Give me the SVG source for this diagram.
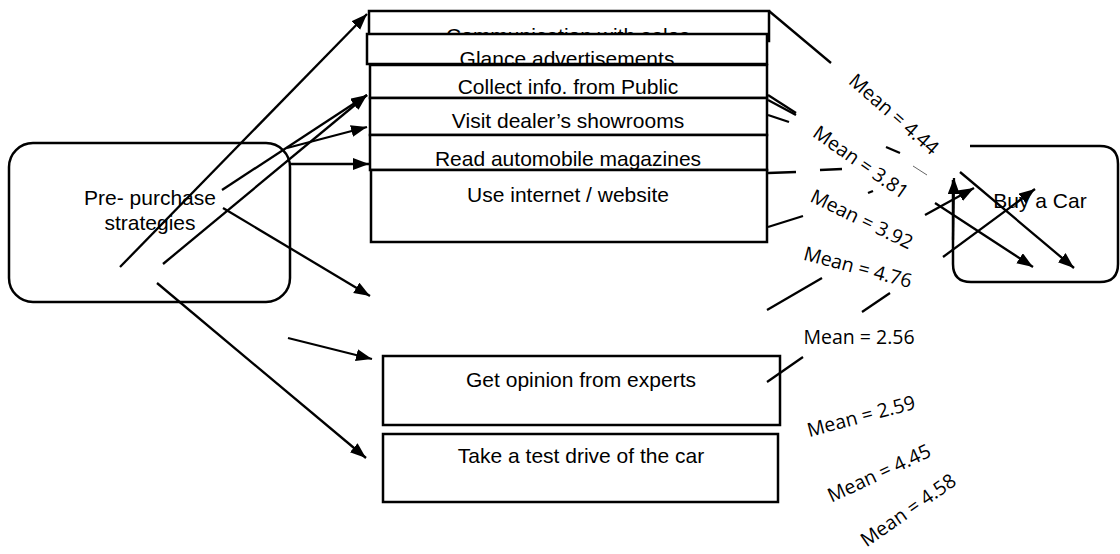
<svg xmlns="http://www.w3.org/2000/svg" width="1120" height="554" viewBox="0 0 1120 554">
<defs>
<marker id="ah" markerUnits="userSpaceOnUse" markerWidth="18" markerHeight="14" refX="16" refY="6" orient="auto">
<path d="M0,0 L16,6 L0,12 z" fill="#000"/>
</marker>
<style>
.box{fill:#fff;stroke:#000;stroke-width:2.5}
.t{font-family:"Liberation Sans",Arial,sans-serif;font-size:21px;fill:#000;text-anchor:middle}
.m{font-family:"Open Sans","Noto Sans",sans-serif;font-size:19.5px;fill:#000;text-anchor:middle}
.c{stroke:#000;stroke-width:2.3;fill:none}
.a{stroke:#000;stroke-width:2.3;fill:none;marker-end:url(#ah)}
</style>
</defs>
<rect width="1120" height="554" fill="#fff"/>
<g id="pre">
<rect class="box" x="9" y="143" width="281" height="159" rx="24"/>
<text class="t" x="150" y="205">Pre- purchase</text>
<text class="t" x="150" y="230">strategies</text>
</g>
<g id="comm">
<rect class="box" x="369" y="11" width="400" height="30"/>
<text class="t" x="568" y="43">Communication with sales</text>
</g>
<g id="glance">
<rect class="box" x="367" y="34" width="400" height="30"/>
<text class="t" x="567" y="66">Glance advertisements</text>
</g>
<g id="collect">
<rect class="box" x="370" y="65" width="397" height="33"/>
<text class="t" x="568" y="94">Collect info. from Public</text>
</g>
<g id="visit">
<rect class="box" x="370" y="98" width="397" height="37"/>
<text class="t" x="568" y="128">Visit dealer’s showrooms</text>
</g>
<g id="read">
<rect class="box" x="370" y="135" width="397" height="35"/>
<text class="t" x="568" y="166">Read automobile magazines</text>
</g>
<g id="internet">
<rect class="box" x="371" y="170" width="396" height="72"/>
<text class="t" x="568" y="202">Use internet / website</text>
</g>
<g id="experts">
<rect class="box" x="383" y="356" width="397" height="69"/>
<text class="t" x="581" y="387">Get opinion from experts</text>
</g>
<g id="testdrive">
<rect class="box" x="383" y="434" width="395" height="68"/>
<text class="t" x="581" y="463">Take a test drive of the car</text>
</g>
<g id="buy">
<path class="c" style="stroke-width:2.5" d="M970,146 H1100 Q1118,146 1118,164 V264 Q1118,282 1100,282 H971 Q953,282 953,264 V180"/>
<text class="t" x="1040" y="208">Buy a Car</text>
</g>
<g id="connectors">
<line class="a" x1="120" y1="267" x2="367" y2="14"/>
<line class="a" x1="163" y1="264" x2="367" y2="95"/>
<line class="a" x1="222" y1="190" x2="367" y2="95"/>
<line class="a" x1="287" y1="148" x2="367" y2="127"/>
<line class="a" x1="290" y1="164" x2="369" y2="164"/>
<line class="a" x1="223" y1="208" x2="370" y2="296"/>
<line class="a" x1="157" y1="283" x2="366" y2="458"/>
<line class="a" x1="288" y1="338" x2="372" y2="359"/>
<line class="c" x1="769" y1="11" x2="831" y2="63"/>
<line class="c" x1="768" y1="95" x2="796" y2="113"/>
<line class="c" x1="768" y1="100" x2="796" y2="115"/>
<line class="c" x1="768" y1="115" x2="789" y2="122"/>
<line class="c" x1="886" y1="147" x2="900" y2="153"/>
<line class="c" style="stroke-width:1;stroke:#666" x1="913" y1="166" x2="927" y2="175"/>
<line class="c" x1="768" y1="173" x2="796" y2="172"/>
<line class="c" x1="820" y1="170" x2="842" y2="169"/>
<line class="c" x1="868" y1="193" x2="873" y2="191"/>
<line class="c" x1="768" y1="227" x2="803" y2="216"/>
<line class="c" x1="767" y1="310" x2="822" y2="278"/>
<line class="c" x1="862" y1="312" x2="890" y2="293"/>
<line class="c" x1="767" y1="382" x2="803" y2="357"/>
<line class="a" x1="925" y1="215" x2="974" y2="188"/>
<line class="a" x1="953" y1="240" x2="954" y2="178"/>
<line class="a" x1="943" y1="257" x2="1035" y2="189"/>
<line class="a" x1="935" y1="203" x2="1033" y2="267"/>
<line class="a" x1="960" y1="172" x2="1074" y2="268"/>
</g>
<g id="labels">
<text class="m" transform="translate(894,114) rotate(41)" y="7">Mean = 4.44</text>
<text class="m" transform="translate(861,162) rotate(35)" y="7">Mean = 3.81</text>
<text class="m" transform="translate(862,219) rotate(26)" y="7">Mean = 3.92</text>
<text class="m" transform="translate(858,267) rotate(15)" y="7">Mean = 4.76</text>
<text class="m" x="859" y="344">Mean = 2.56</text>
<text class="m" transform="translate(861,416) rotate(-15)" y="7">Mean = 2.59</text>
<text class="m" transform="translate(879,473) rotate(-25)" y="7">Mean = 4.45</text>
<text class="m" transform="translate(908,510) rotate(-35)" y="7">Mean = 4.58</text>
</g>
</svg>
